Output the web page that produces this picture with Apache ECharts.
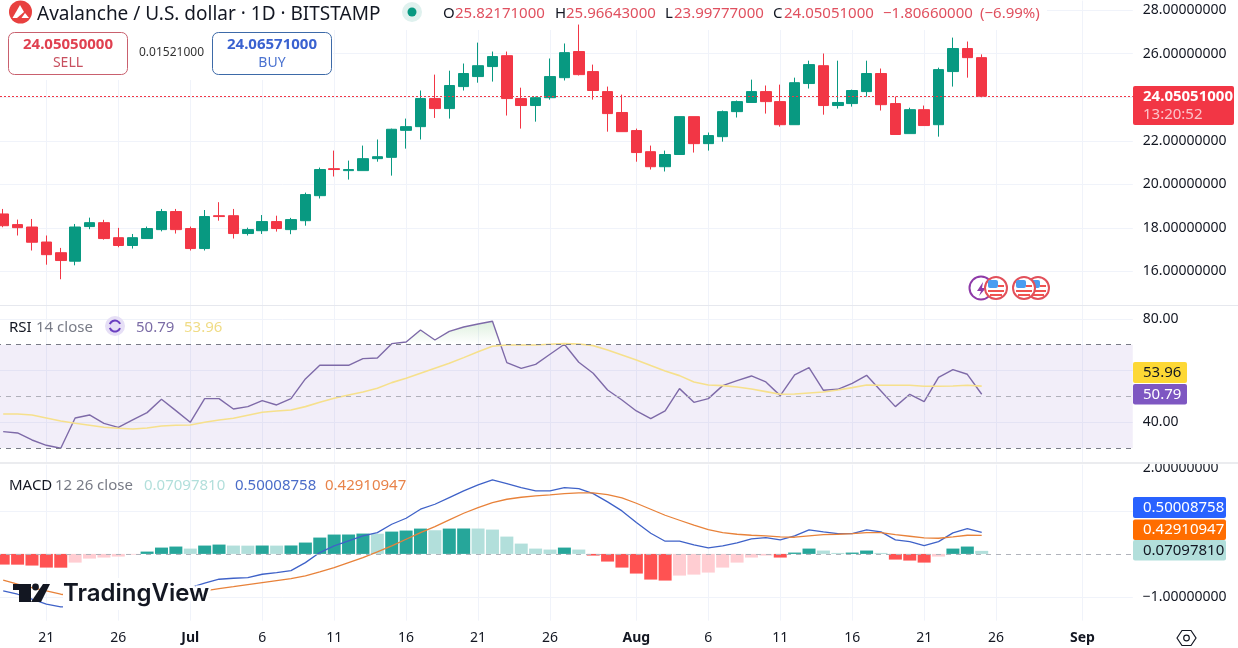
<!DOCTYPE html>
<html>
<head>
<meta charset="utf-8">
<script src="https://cdn.jsdelivr.net/npm/echarts@6/dist/echarts.min.js"></script>
<style>
html, body { margin: 0; padding: 0; background: #fff; }
#chart { width: 1238px; height: 648px; }
</style>
</head>
<body>
<div id="chart"></div>
<script>
// one entry per day, Jun 18 -> Sep 4, month name on the 1st
const days = ['18','19','20','21','22','23','24','25','26','27','28','29','30',
  'Jul','2','3','4','5','6','7','8','9','10','11','12','13','14','15','16','17','18','19','20','21','22','23','24','25','26','27','28','29','30','31',
  'Aug','2','3','4','5','6','7','8','9','10','11','12','13','14','15','16','17','18','19','20','21','22','23','24','25','26','27','28','29','30','31',
  'Sep','2','3','4'];

const opens = [18.64,18.15,18.04,17.35,16.86,16.47,18.06,18.24,17.55,17.19,17.51,17.92,18.75,17.97,17.05,18.56,18.56,17.74,17.87,18.29,17.92,18.33,19.48,20.72,20.63,20.63,21.18,21.24,22.48,22.65,
  23.94,23.48,24.49,24.95,25.41,25.91,23.94,23.62,23.98,24.90,26.10,25.18,24.26,23.30,22.47,21.50,20.81,21.37,23.11,21.87,22.19,23.34,23.76,24.26,23.80,22.74,24.63,25.45,23.62,23.71,24.26,25.09,23.71,22.33,23.43,22.74,25.18,26.24,25.82];
const closes = [18.10,18.01,17.34,16.77,16.50,18.04,18.24,17.51,17.19,17.55,17.97,18.75,17.92,17.05,18.52,18.52,17.74,17.92,18.29,17.97,18.38,19.53,20.68,20.68,20.68,21.18,21.27,22.53,22.65,23.94,
  23.48,24.54,25.09,25.45,25.87,23.94,23.62,23.98,24.95,26.05,25.04,24.31,23.25,22.42,21.46,20.81,21.37,23.11,21.87,22.24,23.34,23.80,24.26,23.80,22.74,24.67,25.50,23.62,23.76,24.31,25.09,23.66,22.29,23.43,22.70,25.27,26.24,25.82,24.05];
const lows = [18.03,17.65,16.96,16.31,15.64,16.28,17.94,17.46,17.11,17.05,17.51,17.84,17.74,16.96,16.96,18.33,17.51,17.65,17.72,17.83,17.71,18.10,19.35,20.36,20.22,20.63,21.04,20.40,21.64,22.06,
  23.05,23.02,24.31,24.67,24.72,23.16,22.56,22.88,23.89,24.77,25.00,23.89,22.42,22.42,21.04,20.68,20.59,21.37,21.46,21.55,21.96,23.07,23.76,23.25,22.65,22.74,24.40,23.20,23.48,23.57,24.03,23.39,22.29,22.33,22.70,22.19,24.49,24.90,24.00];
const highs = [18.87,18.38,18.41,17.65,17.08,18.18,18.47,18.37,18.00,17.72,18.06,18.87,18.87,18.06,18.82,19.18,18.87,18.01,18.59,18.56,18.46,19.62,20.77,21.55,21.09,21.78,22.06,22.56,23.02,24.31,
  25.04,25.22,25.55,26.51,26.10,26.10,24.44,24.03,25.78,26.47,27.34,25.50,24.49,24.12,22.56,21.78,21.55,23.11,23.11,22.38,23.39,23.85,24.81,24.54,24.58,24.90,25.68,26.01,25.68,24.35,25.68,25.32,24.03,23.52,23.62,25.36,26.74,26.56,25.97];

const rsi = [36.30,35.79,33.07,31.01,29.84,41.60,42.76,39.53,37.98,40.83,43.67,48.84,44.44,39.92,49.10,49.10,45.09,45.99,48.32,46.64,49.10,56.72,62.02,62.02,62.02,64.60,64.86,70.41,71.06,75.71,
  71.83,75.19,76.87,78.04,79.07,63.05,60.85,62.40,66.28,70.16,63.18,58.91,52.45,48.58,44.32,41.34,44.32,52.97,47.67,49.10,54.13,56.07,57.88,55.56,50.26,58.27,61.11,52.33,52.71,55.04,58.14,52.07,45.99,50.78,47.93,57.36,60.34,58.53,50.79];
const rsiMa = [43.15,43.15,42.76,41.60,40.44,39.53,38.76,37.98,37.60,37.34,37.73,38.50,38.76,38.89,39.92,40.83,41.47,42.64,43.80,44.32,44.70,45.99,47.67,49.22,50.52,51.68,53.10,55.30,56.98,58.91,
  60.85,62.79,64.99,67.31,69.38,69.90,69.90,69.90,70.16,70.41,70.28,69.64,67.96,66.02,64.08,61.89,59.82,58.01,55.56,54.39,54.13,53.62,52.84,51.81,50.78,50.90,51.29,51.68,52.45,53.36,54.39,54.26,54.26,54.26,53.88,53.88,54.00,54.26,53.96];

const macdHist = [-0.248,-0.25,-0.271,-0.318,-0.32,-0.202,-0.109,-0.085,-0.062,-0.016,0.054,0.147,0.171,0.124,0.194,0.217,0.194,0.192,0.195,0.193,0.196,0.264,0.380,0.450,0.451,0.473,0.470,0.519,0.543,0.589,
  0.550,0.589,0.591,0.590,0.566,0.403,0.240,0.124,0.101,0.147,0.101,-0.039,-0.178,-0.318,-0.457,-0.597,-0.620,-0.504,-0.481,-0.434,-0.318,-0.202,-0.085,-0.039,-0.085,0.031,0.124,0.078,0.023,0.031,0.078,0.023,-0.132,-0.155,-0.202,-0.062,0.124,0.171,0.071];
const macdLine = [-0.860,-0.938,-1.054,-1.170,-1.232,-1.225,-1.194,-1.170,-1.093,-1.015,-0.961,-0.915,-0.853,-0.783,-0.682,-0.589,-0.566,-0.550,-0.473,-0.434,-0.388,-0.202,0.031,0.186,0.302,0.419,0.496,0.690,0.829,1.039,
  1.155,1.310,1.465,1.604,1.721,1.635,1.542,1.465,1.465,1.542,1.519,1.403,1.209,1.000,0.729,0.481,0.295,0.295,0.209,0.140,0.186,0.256,0.349,0.380,0.326,0.419,0.558,0.512,0.473,0.473,0.558,0.512,0.326,0.287,0.194,0.287,0.488,0.589,0.500];
const macdSignal = [-0.612,-0.705,-0.783,-0.860,-0.938,-0.977,-1.000,-1.015,-1.015,-1.008,-0.992,-0.961,-0.938,-0.899,-0.860,-0.806,-0.760,-0.713,-0.667,-0.620,-0.574,-0.512,-0.419,-0.318,-0.202,-0.085,0.047,0.186,0.341,0.496,
  0.636,0.791,0.946,1.077,1.194,1.271,1.318,1.349,1.372,1.403,1.418,1.418,1.380,1.302,1.178,1.039,0.899,0.783,0.667,0.566,0.496,0.457,0.434,0.419,0.395,0.388,0.419,0.450,0.457,0.473,0.496,0.496,0.450,0.411,0.372,0.364,0.395,0.434,0.429];

const priceTicks = [16, 18, 20, 22, 24, 26, 28];
const priceLabels = [16, 18, 20, 22, 26, 28];
const rsiTicks = [40, 60, 80];
const rsiLabels = [40, 80];
const macdTicks = [-1, 1];
const macdLabels = [-1, 2];
const lastClose = 24.05051;

const GREEN = '#089981', RED = '#f23645', GRID = '#f0f3fa', FONT = '"Noto Sans"';

const candles = opens.map((o, i) => [o, closes[i], lows[i], highs[i]]);

// tradingview colours the histogram by sign and by rising/falling
function histColor(i) {
  const v = macdHist[i], up = i === 0 ? false : v > macdHist[i - 1];
  if (v >= 0) return up ? '#26a69a' : '#b2dfdb';
  return up ? '#ffcdd2' : '#ff5252';
}

const isTick = v => isNaN(+v) || (+v % 5 === 1 && +v <= 26);

function xAxis(gridIndex, showLabel) {
  return {
    type: 'category', gridIndex, data: days,
    axisLine: { show: false }, axisTick: { show: false },
    splitLine: { show: true, alignWithLabel: true, interval: (i, v) => isTick(v), lineStyle: { color: GRID, width: 1 } },
    axisLabel: {
      show: showLabel, margin: 10.5, fontFamily: FONT, fontSize: 14, color: '#131722',
      interval: (i, v) => isTick(v),
      formatter: v => isNaN(+v) ? '{m|' + v + '}' : v,
      rich: { m: { fontFamily: FONT, fontSize: 14, fontWeight: 'bold', color: '#131722' } }
    }
  };
}

function yAxis(gridIndex, min, max, ticks, labels, digits) {
  return {
    type: 'value', gridIndex, position: 'right', min, max, scale: true,
    axisLine: { show: false },
    axisTick: { show: false, customValues: ticks },
    splitLine: { show: true, lineStyle: { color: GRID, width: 1 } },
    axisLabel: {
      margin: 10, fontFamily: FONT, fontSize: 14, color: '#131722', customValues: labels,
      showMinLabel: true, showMaxLabel: true,
      formatter: v => (v < 0 ? '\u2212' : '') + Math.abs(v).toFixed(digits)
    }
  };
}

const txt = (x, y, text, fontSize, fill, extra) => ({
  type: 'text', z: 100, x, y,
  style: Object.assign({ text, fontFamily: FONT, fontSize, fill, verticalAlign: 'middle' }, extra)
});
const box = (x, y, width, height, fill, z, r, stroke) => ({
  type: 'rect', z: z, shape: { x, y, width, height, r: r || 0 },
  style: { fill, stroke: stroke || null, lineWidth: stroke ? 1 : 0 }
});
const dot = (cx, cy, r, fill, stroke, lw, z) => ({
  type: 'circle', z: z || 100, shape: { cx, cy, r }, style: { fill, stroke: stroke || null, lineWidth: lw || 0 }
});
const poly = (points, fill, z) => ({ type: 'polygon', z: z || 100, shape: { points }, style: { fill } });

function tag(x, y, w, h, fill, text, color) {
  return [box(x, y, w, h, fill, 100, 2), txt(x + 10, y + h / 2, text, 15, color)];
}

function flag(cx, cy, z) {
  return [
    dot(cx, cy, 11, '#fff', '#e2505a', 2, z),
    box(cx - 8, cy + 2, 16, 2, '#ef5350', z + 1),
    box(cx - 6, cy + 6, 12, 2, '#ef5350', z + 1),
    box(cx - 8, cy - 8, 10, 8, '#4b9cf0', z + 1, 2),
    box(cx + 2, cy - 3, 6, 2, '#ef5350', z + 1)
  ];
}

const legend = [
  // keeps the grid lines away from the legend texts
  box(0, 0, 1047, 30, '#fff', 1),
  box(0, 30, 333, 50, '#fff', 1),
  dot(20.5, 12, 11.5, '#e8403f'),
  poly([[20, 5], [24, 12], [17, 18], [12.5, 18]], '#fff'),
  poly([[25, 13], [29, 18], [21.5, 18]], '#fff'),
  txt(37, 14.5, 'Avalanche / U.S. dollar \u00b7 1D \u00b7 BITSTAMP', 19, '#131722'),
  dot(412, 12, 10, '#dff1ee'),
  dot(412, 12, 4.5, '#089981'),
  txt(443, 14, 'O', 15, '#131722'), txt(455, 14, '25.82171000', 15, '#e0505f'),
  txt(555, 14, 'H', 15, '#131722'), txt(566, 14, '25.96643000', 15, '#e0505f'),
  txt(665, 14, 'L', 15, '#131722'), txt(674, 14, '23.99777000', 15, '#e0505f'),
  txt(773, 14, 'C', 15, '#131722'), txt(784, 14, '24.05051000', 15, '#e0505f'),
  txt(883, 14, '\u22121.80660000', 15, '#e0505f'), txt(980, 14, '(\u22126.99%)', 15, '#e0505f'),

  box(8.5, 32.5, 119, 42, '#fff', 100, 6, '#c9606e'),
  txt(68, 45, '24.05050000', 15, '#e04050', { align: 'center', fontWeight: 'bold' }),
  txt(68, 63, 'SELL', 14, '#c8505f', { align: 'center' }),
  txt(139, 53, '0.01521000', 12, '#333'),
  box(212.5, 32.5, 119, 42, '#fff', 100, 6, '#3d6aa8'),
  txt(272, 45, '24.06571000', 15, '#3a62d0', { align: 'center', fontWeight: 'bold' }),
  txt(272, 63, 'BUY', 14, '#4a72d0', { align: 'center' }),

  txt(9, 328, 'RSI', 15, '#131722'), txt(36, 328, '14 close', 15, '#787b86'),
  dot(115, 326, 10, '#e6dff6'),
  { type: 'arc', z: 101, shape: { cx: 115, cy: 326, r: 5.5, startAngle: 3.5, endAngle: 5.9 }, style: { stroke: '#6a3fc0', lineWidth: 2, fill: null } },
  { type: 'arc', z: 101, shape: { cx: 115, cy: 326, r: 5.5, startAngle: 0.4, endAngle: 2.8 }, style: { stroke: '#6a3fc0', lineWidth: 2, fill: null } },
  txt(136, 328, '50.79', 15, '#7b6ca6'), txt(184, 328, '53.96', 15, '#f0dc86'),

  txt(9, 486, 'MACD', 15, '#131722'), txt(55, 486, '12 26 close', 15, '#787b86'),
  txt(144, 486, '0.07097810', 15, '#b2dfdb'), txt(235, 486, '0.50008758', 15, '#4a6cc8'), txt(325, 486, '0.42910947', 15, '#e8834a'),

  // pane separators
  box(0, 305, 1238, 1, '#e6e8ee', 90),
  box(0, 462, 1238, 2, '#ebecef', 90),

  box(1133, 86, 101, 39, RED, 100, 2),
  txt(1143, 97, '24.05051000', 15, '#fff', { fontWeight: 'bold' }),
  txt(1143, 115, '13:20:52', 15, '#fbc4ca'),
  ...tag(1133, 362, 54, 21, '#fdd835', '53.96', '#131722'),
  ...tag(1133, 384, 54, 20.5, '#7e57c2', '50.79', '#fff'),
  ...tag(1133, 497, 93, 21, '#2962ff', '0.50008758', '#fff'),
  ...tag(1133, 519.5, 93, 20.5, '#ff6d00', '0.42910947', '#fff'),
  ...tag(1133, 540, 93, 20.5, '#b2dfdb', '0.07097810', '#131722'),

  // event badges
  dot(981, 288, 11.5, '#fff', '#8e3aa8', 2, 60),
  poly([[983, 282], [977, 291], [981, 291], [979, 296], [986, 288], [982, 288]], '#8e3aa8', 61),
  ...flag(996, 288, 62),
  ...flag(1038, 288, 66),
  ...flag(1024, 288, 70),

  // logo, it sits on a white patch in the original
  box(63, 578, 127, 32, '#fff', 90),
  poly([[13, 584], [31, 584], [31, 602], [19, 602], [19, 590], [13, 590]], '#131722'),
  dot(35.5, 587, 3.4, '#131722'),
  poly([[43, 584], [50, 584], [41, 602], [31, 602]], '#131722'),
  { type: 'text', z: 100, x: 63, y: 594, style: { text: 'TradingView', fontFamily: 'Inter', fontWeight: 600, fontSize: 24, fill: '#131722', verticalAlign: 'middle', stroke: '#fff', lineWidth: 5 } },

  // settings button
  { type: 'polygon', z: 100, shape: { points: [[1177, 638], [1182, 630.5], [1191, 630.5], [1196, 638], [1191, 645.5], [1182, 645.5]] }, style: { fill: '#fff', stroke: '#131722', lineWidth: 1.2 } },
  dot(1186.5, 638, 2.8, '#fff', '#131722', 1.2)
];

const chart = echarts.init(document.getElementById('chart'), null, { renderer: 'canvas' });
chart.setOption({
  animation: false,
  backgroundColor: '#fff',
  textStyle: { fontFamily: FONT },
  grid: [
    { left: -4, width: 1136.8, top: 0.6, height: 305, outerBoundsMode: 'none' },
    { left: -4, width: 1136.8, top: 306, height: 156, outerBoundsMode: 'none' },
    { left: -4, width: 1136.8, top: 464.6, height: 156, outerBoundsMode: 'none' }
  ],
  xAxis: [xAxis(0, false), xAxis(1, false), xAxis(2, true)],
  yAxis: [
    yAxis(0, 14.43, 28.44, priceTicks, priceLabels, 8),
    yAxis(1, 24.53, 85, rsiTicks, rsiLabels, 2),
    yAxis(2, -1.551, 2.077, macdTicks, macdLabels, 8)
  ],
  series: [
    {
      name: 'AVAXUSD', type: 'candlestick', xAxisIndex: 0, yAxisIndex: 0, data: candles, barWidth: 11,
      itemStyle: { color: GREEN, color0: RED, borderColor: GREEN, borderColor0: RED, borderWidth: 1 },
      markLine: {
        silent: true, symbol: 'none', label: { show: false },
        lineStyle: { color: RED, type: [2, 2], width: 1 },
        data: [{ yAxis: lastClose }]
      }
    },
    {
      name: 'RSI', type: 'line', xAxisIndex: 1, yAxisIndex: 1, data: rsi, symbol: 'none',
      lineStyle: { color: '#7e6aa8', width: 1.4 },
      areaStyle: {
        origin: 70,
        color: new echarts.graphic.LinearGradient(0, 318, 0, 344, [
          { offset: 0, color: 'rgba(76,175,80,0.3)' },
          { offset: 1, color: 'rgba(76,175,80,0)' }
        ], true)
      },
      markArea: {
        silent: true, itemStyle: { color: 'rgba(126,87,194,0.1)' },
        data: [[{ yAxis: 70 }, { yAxis: 30 }]]
      },
      markLine: {
        silent: true, symbol: 'none', label: { show: false },
        lineStyle: { color: '#787b86', type: [5, 5], width: 1 },
        data: [{ yAxis: 70 }, { yAxis: 50, lineStyle: { color: '#b0b0ba' } }, { yAxis: 30 }]
      }
    },
    {
      name: 'RSI MA', type: 'line', xAxisIndex: 1, yAxisIndex: 1, data: rsiMa, symbol: 'none',
      lineStyle: { color: '#f6e08c', width: 1.6 }
    },
    {
      name: 'Histogram', type: 'bar', xAxisIndex: 2, yAxisIndex: 2, barWidth: 13,
      data: macdHist.map((v, i) => ({ value: v, itemStyle: { color: histColor(i) } })),
      markLine: {
        silent: true, symbol: 'none', label: { show: false },
        lineStyle: { color: '#b0b3bb', type: [5, 5], width: 1 },
        data: [{ yAxis: 0 }]
      }
    },
    {
      name: 'MACD', type: 'line', xAxisIndex: 2, yAxisIndex: 2, data: macdLine, symbol: 'none',
      lineStyle: { color: '#3f62c8', width: 1.3 }
    },
    {
      name: 'Signal', type: 'line', xAxisIndex: 2, yAxisIndex: 2, data: macdSignal, symbol: 'none',
      lineStyle: { color: '#e8823a', width: 1.3 }
    }
  ],
  graphic: { elements: legend }
});
</script>
</body>
</html>
